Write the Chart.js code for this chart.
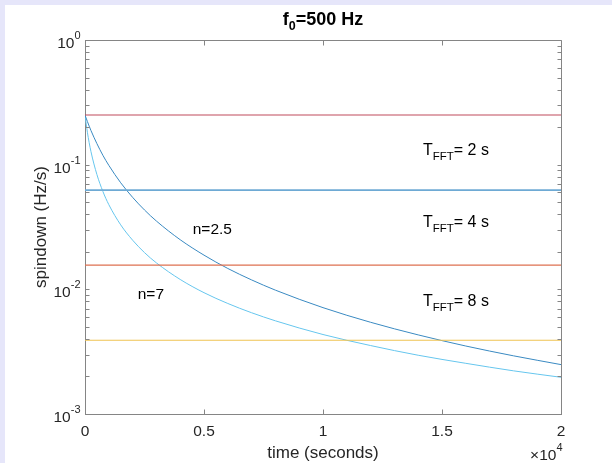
<!DOCTYPE html>
<html>
<head>
<meta charset="utf-8">
<script src="https://cdn.jsdelivr.net/npm/chart.js@4.4.1/dist/chart.umd.min.js"></script>
<style>
  html, body { margin: 0; padding: 0; background: #e6e6fa; }
  #sheet { position: absolute; left: 5px; top: 5px; width: 607px; height: 458px; background: #ffffff; }
  #chart { position: absolute; left: 0; top: 0; }
</style>
</head>
<body>
<div id="sheet"></div>
<canvas id="chart" width="612" height="463" style="width:612px;height:463px"></canvas>
<script>
// time since birth (s)
const times = [0, 100, 250, 500, 750, 1000, 1500, 2000, 2500, 3000, 4000, 5000,
               6000, 7000, 8000, 10000, 12000, 14000, 16000, 18000, 20000];
// spindown (Hz/s) for braking index n = 2.5
const spindownN25 = [0.25, 0.222, 0.188, 0.1475, 0.119, 0.0988, 0.0716, 0.0547, 0.0433, 0.0353,
                     0.0250, 0.0188, 0.0147, 0.0119, 0.00985, 0.00713, 0.00544, 0.00431,
                     0.00351, 0.00293, 0.00249];
// spindown (Hz/s) for braking index n = 7
const spindownN7 = [0.25, 0.182, 0.1275, 0.0834, 0.0611, 0.0478, 0.0329, 0.0248, 0.0197, 0.0163,
                    0.0120, 0.0094, 0.0077, 0.00649, 0.00559, 0.00434, 0.00354, 0.00296,
                    0.00255, 0.00222, 0.00197];
// spindown resolution limits 1/T^2 for T = 2, 4, 8, 16 s
const thresholdLevels = [0.25, 0.0625, 0.015625, 0.00390625];
const thresholdColors = ['#bf4a5c', '#6eaad4', '#de7050', '#efc352'];

// FFT length labels
const fftLengths = [2, 4, 8];
const fftLabelTime = 14200;
const fftLabelLevel = [0.1315, 0.0347, 0.00817];

// braking index labels
const curveLabels = ['n=2.5', 'n=7'];
const curveLabelTime = [4527, 2215];
const curveLabelLevel = [0.0307, 0.00922];

// axis ticks
const xTicks = [0, 5000, 10000, 15000, 20000];
const xTickLabels = ['0', '0.5', '1', '1.5', '2'];
const yDecades = [0, -1, -2, -3];

const FONT = '"Liberation Sans", Arial, Helvetica, sans-serif';
const AXIS = '#858585';
const INK = '#262626';

const datasets = [];
thresholdLevels.forEach((v, i) => {
  datasets.push({
    data: [{ x: 0, y: v }, { x: 20000, y: v }],
    borderColor: thresholdColors[i],
    borderWidth: i === 1 ? 1.6 : 1.1,
    pointRadius: 0
  });
});
datasets.push({
  data: times.map((t, i) => ({ x: t, y: spindownN25[i] })),
  borderColor: '#3a8ac2', borderWidth: 1, pointRadius: 0,
  cubicInterpolationMode: 'monotone'
});
datasets.push({
  data: times.map((t, i) => ({ x: t, y: spindownN7[i] })),
  borderColor: '#66c6ee', borderWidth: 1, pointRadius: 0,
  cubicInterpolationMode: 'monotone'
});

function rich(ctx, parts, x, y, align) {
  let w = 0;
  parts.forEach(p => {
    ctx.font = (p.bold ? 'bold ' : '') + p.size + 'px ' + FONT;
    p.w = ctx.measureText(p.t).width;
    w += p.w;
  });
  let cx = align === 'right' ? x - w : align === 'center' ? x - w / 2 : x;
  parts.forEach(p => {
    ctx.font = (p.bold ? 'bold ' : '') + p.size + 'px ' + FONT;
    ctx.fillText(p.t, cx, y + (p.dy || 0));
    cx += p.w;
  });
}

const frame = {
  id: 'frame',
  afterDraw(chart) {
    const { ctx, chartArea: a, scales: { x, y } } = chart;
    ctx.save();
    const L = Math.round(a.left) + 0.5, R = Math.round(a.right) + 0.5;
    const T = Math.round(a.top) + 0.5, B = Math.round(a.bottom) + 0.5;
    ctx.strokeStyle = AXIS;
    ctx.lineWidth = 1;
    ctx.beginPath();
    ctx.moveTo(L, T); ctx.lineTo(R, T); ctx.lineTo(R, B);
    // x ticks, inward on bottom and top
    xTicks.forEach(v => {
      const px = Math.round(x.getPixelForValue(v)) + 0.5;
      ctx.moveTo(px, B); ctx.lineTo(px, B - 5);
      ctx.moveTo(px, T); ctx.lineTo(px, T + 5);
    });
    // y ticks: decades and minor ticks, inward on left and right
    yDecades.forEach(d => {
      for (let k = 1; k <= 9; k++) {
        const v = k * Math.pow(10, d - 1);
        if (v < 0.001 - 1e-12) continue;
        const py = Math.round(y.getPixelForValue(v)) + 0.5;
        ctx.moveTo(L, py); ctx.lineTo(L + 4, py);
        ctx.moveTo(R, py); ctx.lineTo(R - 4, py);
      }
    });
    ctx.stroke();

    ctx.fillStyle = INK;
    ctx.textBaseline = 'alphabetic';
    // x tick labels
    xTicks.forEach((v, i) => {
      rich(ctx, [{ t: xTickLabels[i], size: 15.5 }], x.getPixelForValue(v), B + 21, 'center');
    });
    // y tick labels
    yDecades.forEach(d => {
      const py = y.getPixelForValue(Math.pow(10, d));
      rich(ctx, [{ t: '10', size: 15.5 }, { t: d === 0 ? '0' : '-' + (-d), size: 11, dy: -9 }],
           L - 5, py + 8, 'right');
    });
    // exponent of the x axis
    rich(ctx, [{ t: '\u00d710', size: 15.5 }, { t: '4', size: 11, dy: -9 }], R + 1, B + 45, 'right');
    // axis titles
    rich(ctx, [{ t: 'time (seconds)', size: 17 }], (a.left + a.right) / 2, B + 43, 'center');
    ctx.save();
    ctx.translate(46, (a.top + a.bottom) / 2);
    ctx.rotate(-Math.PI / 2);
    rich(ctx, [{ t: 'spindown (Hz/s)', size: 17 }], 0, 0, 'center');
    ctx.restore();
    // title
    ctx.fillStyle = '#000';
    rich(ctx, [{ t: 'f', size: 18, bold: true }, { t: '0', size: 12.5, bold: true, dy: 5 },
               { t: '=500 Hz', size: 18, bold: true }], (a.left + a.right) / 2, 25, 'center');
    // annotations
    curveLabels.forEach((s, i) => {
      rich(ctx, [{ t: s, size: 15.5 }], x.getPixelForValue(curveLabelTime[i]),
           y.getPixelForValue(curveLabelLevel[i]) + 5.5, 'left');
    });
    fftLengths.forEach((n, i) => {
      rich(ctx, [{ t: 'T', size: 16 }, { t: 'FFT', size: 11.5, dy: 5 }, { t: '= ' + n + ' s', size: 16 }],
           x.getPixelForValue(fftLabelTime), y.getPixelForValue(fftLabelLevel[i]) + 5.5, 'left');
    });
    ctx.restore();
  }
};

new Chart(document.getElementById('chart'), {
  type: 'line',
  data: { datasets },
  options: {
    responsive: false,
    animation: false,
    layout: { padding: { left: 85, right: 51, top: 40, bottom: 49 } },
    plugins: { legend: { display: false }, tooltip: { enabled: false }, title: { display: false } },
    scales: {
      x: {
        type: 'linear', min: 0, max: 20000,
        grid: { display: false, drawTicks: false },
        border: { display: true, color: AXIS, width: 1 },
        ticks: { display: false }
      },
      y: {
        type: 'logarithmic', min: 0.001, max: 1,
        grid: { display: false, drawTicks: false },
        border: { display: true, color: AXIS, width: 1 },
        ticks: { display: false }
      }
    }
  },
  plugins: [frame]
});
</script>
</body>
</html>
